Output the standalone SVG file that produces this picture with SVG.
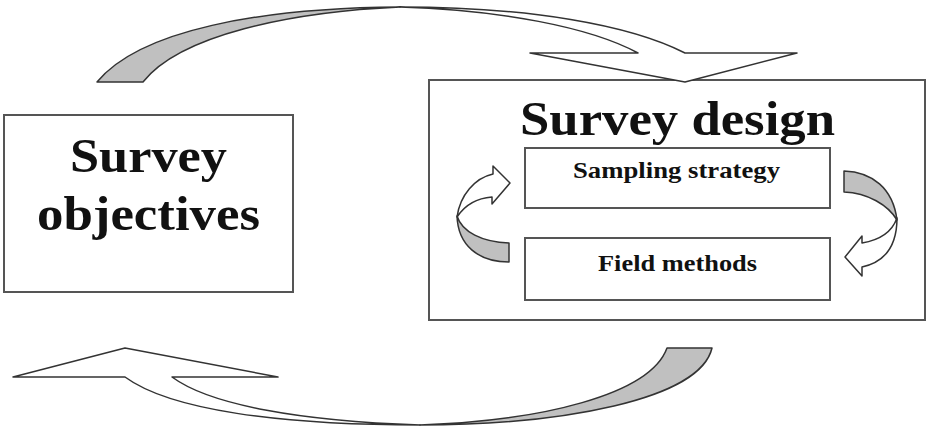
<svg xmlns="http://www.w3.org/2000/svg" width="927" height="430" viewBox="0 0 927 430">
<style>
.box{fill:#fff;stroke:#555;stroke-width:2}
.ar{stroke:#333;stroke-width:1.5;stroke-linejoin:round}
.back{fill:#c0c0c0}
.front{fill:#fff}
.t{font-family:"Liberation Serif","Times New Roman",serif;font-weight:bold;fill:#111}
</style>
<rect width="927" height="430" fill="#fff"/>
<g id="survey-objectives">
  <rect class="box" x="4" y="115" width="289" height="177"/>
  <text class="t" x="70" y="172" font-size="49" textLength="157" lengthAdjust="spacingAndGlyphs">Survey</text>
  <text class="t" x="37" y="230" font-size="49" textLength="223" lengthAdjust="spacingAndGlyphs">objectives</text>
</g>
<g id="survey-design">
  <rect class="box" x="429" y="80" width="496" height="240"/>
  <text class="t" x="520" y="135" font-size="48" textLength="315" lengthAdjust="spacingAndGlyphs">Survey design</text>
</g>
<g id="sampling-strategy">
  <rect class="box" x="525" y="148" width="305" height="60"/>
  <text class="t" x="573" y="178" font-size="23" textLength="207" lengthAdjust="spacingAndGlyphs">Sampling strategy</text>
</g>
<g id="field-methods">
  <rect class="box" x="525" y="238" width="305" height="62"/>
  <text class="t" x="598" y="271" font-size="23" textLength="159" lengthAdjust="spacingAndGlyphs">Field methods</text>
</g>
<g id="connectors">
  <g id="arrow-top">
    <path class="ar back" d="M97,82 C140,30 260,8 400,7 C290,12 180,35 143,82 Z"/>
    <path class="ar front" d="M400,7 C530,7 630,25 685,53 L797,53 L685,82 L530,53 L638,53 C590,27 500,10 400,7 Z"/>
  </g>
  <g id="arrow-bottom">
    <path class="ar back" d="M712,348 C700,400 560,425 420,425 C540,421 650,395 667,348 Z"/>
    <path class="ar front" d="M420,425 C280,425 170,410 125,377 L13,377 L125,348 L278,377 L172,377 C210,405 300,421 420,425 Z"/>
  </g>
  <g id="arrow-left-small">
    <path class="ar back" d="M457,216 C462,232 482,242 509,243 L509,262 C478,262 458,245 457,216 Z"/>
    <path class="ar front" d="M457,217 C460,195 475,178 493,174 L493,166 L510,183 L492,204 L492,197 C478,198 465,205 457,217 Z"/>
  </g>
  <g id="arrow-right-small">
    <path class="ar back" d="M844,171 C872,172 893,188 897,220 C888,205 868,193 844,192 Z"/>
    <path class="ar front" d="M897,218 C897,245 885,262 862,267 L862,276 L845,257 L862,236 L862,243 C880,240 892,232 897,218 Z"/>
  </g>
</g>
</svg>
